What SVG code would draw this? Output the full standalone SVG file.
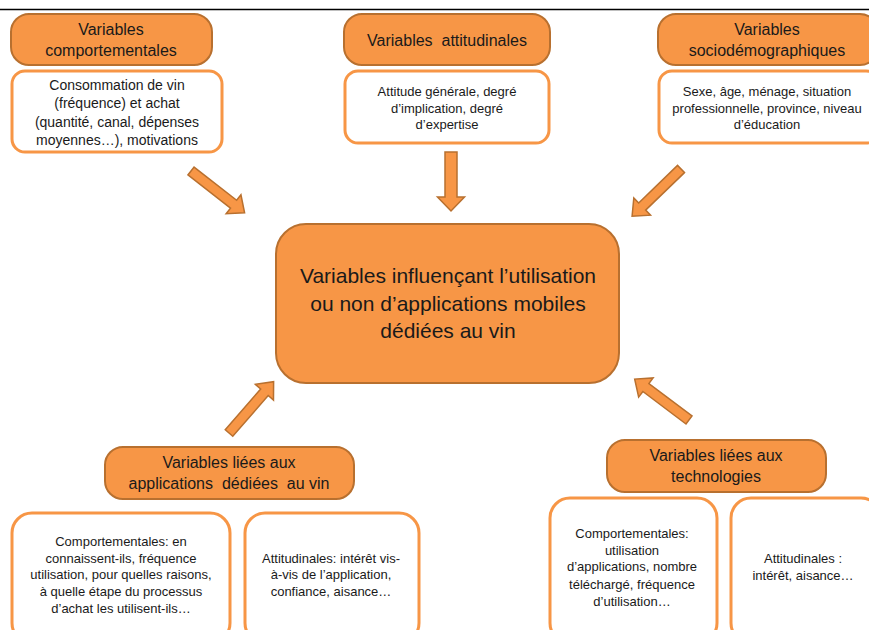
<svg xmlns="http://www.w3.org/2000/svg" xmlns:xlink="http://www.w3.org/1999/xlink" width="869" height="630" viewBox="0 0 869 630">
<style>
.hdr{fill:#F79646;stroke:#B8702F;stroke-width:2}
.box{fill:#FFFFFF;stroke:#F79646;stroke-width:3}
.main{fill:#F79646;stroke:#B8702F;stroke-width:2}
.arr{fill:#F79646;stroke:#B8702F;stroke-width:1.5;stroke-linejoin:miter}
text{font-family:"Liberation Sans",Arial,sans-serif;fill:#1a1a1a;text-anchor:middle}
.h{font-size:16px}
.t14{font-size:14px}
.t13{font-size:13px}
.m{font-size:21px}
</style>
<defs>
<path id="arrD" d="M0,-5 H54 V-12 L68,0 L54,12 V5 H0 Z"/>
<path id="arrV" d="M0,-6 H45 V-13.5 L59,0 L45,13.5 V6 H0 Z"/>
</defs>
<rect width="869" height="630" fill="#FFFFFF"/>
<line x1="0" y1="9.5" x2="869" y2="9.5" stroke="#000" stroke-width="1.5"/>

<g id="connectors">
<use xlink:href="#arrD" class="arr" transform="translate(191,171) rotate(38)"/>
<use xlink:href="#arrV" class="arr" transform="translate(451,152) rotate(90)"/>
<use xlink:href="#arrD" class="arr" transform="translate(681,169) rotate(136)"/>
<use xlink:href="#arrD" class="arr" transform="translate(229,433) rotate(-49)"/>
<use xlink:href="#arrD" class="arr" transform="translate(689,420) rotate(-143)"/>
</g>

<g id="hdr-comportementales">
<rect class="hdr" x="11" y="14" width="201" height="51" rx="18"/>
<text class="h" x="111" y="35">Variables</text>
<text class="h" x="111" y="56">comportementales</text>
</g>
<g id="box-comportementales">
<rect class="box" x="12" y="71" width="210" height="81" rx="13"/>
<text class="t14" x="117" y="90">Consommation de vin</text>
<text class="t14" x="117" y="108">(fréquence) et achat</text>
<text class="t14" x="117" y="127">(quantité, canal, dépenses</text>
<text class="t14" x="117" y="145">moyennes…), motivations</text>
</g>

<g id="hdr-attitudinales">
<rect class="hdr" x="344" y="14" width="206" height="51" rx="18"/>
<text class="h" x="447" y="46" xml:space="preserve">Variables  attitudinales</text>
</g>
<g id="box-attitudinales">
<rect class="box" x="345" y="71" width="204" height="72" rx="13"/>
<text class="t13" x="447" y="96">Attitude générale, degré</text>
<text class="t13" x="447" y="113">d’implication, degré</text>
<text class="t13" x="447" y="129">d’expertise</text>
</g>

<g id="hdr-socio">
<rect class="hdr" x="658" y="14" width="220" height="51" rx="18"/>
<text class="h" x="767" y="35">Variables</text>
<text class="h" x="767" y="56">sociodémographiques</text>
</g>
<g id="box-socio">
<rect class="box" x="659" y="71" width="220" height="72" rx="13"/>
<text class="t13" x="767" y="96">Sexe, âge, ménage, situation</text>
<text class="t13" x="767" y="113">professionnelle, province, niveau</text>
<text class="t13" x="767" y="129">d’éducation</text>
</g>

<g id="main">
<rect class="main" x="276" y="224" width="343" height="159" rx="30"/>
<text class="m" x="448" y="283">Variables influençant l’utilisation</text>
<text class="m" x="448" y="311">ou non d’applications mobiles</text>
<text class="m" x="448" y="338">dédiées au vin</text>
</g>

<g id="hdr-applications">
<rect class="hdr" x="105" y="447" width="249" height="52" rx="18"/>
<text class="h" x="229" y="468">Variables liées aux</text>
<text class="h" x="229" y="489" xml:space="preserve">applications  dédiées  au vin</text>
</g>
<g id="box-app-comport">
<rect class="box" x="12" y="513" width="218" height="130" rx="20"/>
<text class="t13" x="121" y="546">Comportementales: en</text>
<text class="t13" x="121" y="563">connaissent-ils, fréquence</text>
<text class="t13" x="121" y="579">utilisation, pour quelles raisons,</text>
<text class="t13" x="121" y="596">à quelle étape du processus</text>
<text class="t13" x="121" y="613">d’achat les utilisent-ils…</text>
</g>
<g id="box-app-attit">
<rect class="box" x="245" y="513" width="174" height="130" rx="20"/>
<text class="t13" x="331" y="563">Attitudinales: intérêt vis-</text>
<text class="t13" x="331" y="579">à-vis de l’application,</text>
<text class="t13" x="331" y="596">confiance, aisance…</text>
</g>

<g id="hdr-technologies">
<rect class="hdr" x="607" y="440" width="219" height="52" rx="18"/>
<text class="h" x="716" y="461">Variables liées aux</text>
<text class="h" x="716" y="482">technologies</text>
</g>
<g id="box-tech-comport">
<rect class="box" x="550" y="498" width="167" height="145" rx="20"/>
<text class="t13" x="632" y="538">Comportementales:</text>
<text class="t13" x="632" y="555">utilisation</text>
<text class="t13" x="632" y="571">d’applications, nombre</text>
<text class="t13" x="632" y="589">téléchargé, fréquence</text>
<text class="t13" x="632" y="606">d’utilisation…</text>
</g>
<g id="box-tech-attit">
<rect class="box" x="731" y="498" width="150" height="145" rx="20"/>
<text class="t13" x="803" y="563">Attitudinales :</text>
<text class="t13" x="803" y="580">intérêt, aisance…</text>
</g>
</svg>
